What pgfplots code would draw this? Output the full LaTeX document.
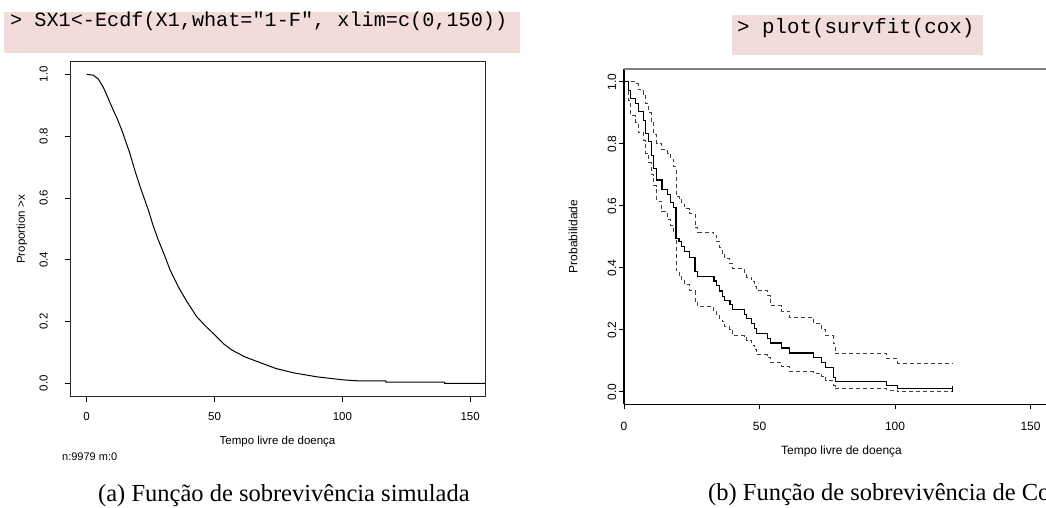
\documentclass[border=0pt]{standalone}
\usepackage{fontspec}
\setmainfont{Liberation Serif}
\setmonofont{Liberation Mono}
\newfontfamily\arial{Liberation Sans}
\usepackage{pgfplots}
\pgfplotsset{compat=1.18}
\definecolor{codebg}{HTML}{F2DCDB}

% Simulated survival curve (1 - empirical CDF)
\pgfplotstableread{
x y
0 1.000
2.6 0.997
4.5 0.985
6.5 0.958
8 0.930
9.8 0.895
12 0.855
13.7 0.820
16.9 0.744
18.8 0.690
20.9 0.636
24.1 0.561
26 0.510
28.0 0.464
30.5 0.413
32.6 0.367
35.8 0.313
39 0.267
43.0 0.216
46.5 0.185
50.2 0.156
53.5 0.128
56.7 0.108
62 0.085
67.8 0.067
74 0.048
80.8 0.034
90 0.021
100.4 0.011
106 0.008
117 0.008
117 0.004
140 0.004
140 0.000
156 0.000
}\simdata

% Cox survival estimate with lower/upper confidence limits
\pgfplotstableread{
t s up lo
0 1.000 1.000 1.000
1.6 0.972 1.000 0.940
2.5 0.946 1.000 0.890
4.2 0.930 0.993 0.870
5.2 0.903 0.975 0.835
7.1 0.875 0.960 0.810
8.0 0.833 0.930 0.770
9.0 0.806 0.900 0.740
10.0 0.763 0.870 0.700
10.8 0.720 0.830 0.665
12.1 0.683 0.800 0.615
14.0 0.651 0.780 0.580
16.1 0.637 0.770 0.555
17.2 0.610 0.750 0.535
18.2 0.594 0.725 0.510
19.2 0.495 0.630 0.390
20.3 0.484 0.620 0.375
21.3 0.467 0.605 0.360
22.3 0.452 0.590 0.345
24.1 0.434 0.575 0.325
26.2 0.388 0.530 0.290
27.2 0.372 0.515 0.275
33.2 0.357 0.505 0.260
34.2 0.342 0.485 0.245
35.2 0.325 0.465 0.235
36.2 0.308 0.445 0.225
37.1 0.294 0.430 0.210
39.1 0.280 0.415 0.200
40.1 0.264 0.398 0.180
44.4 0.249 0.385 0.175
45.3 0.235 0.370 0.165
47.1 0.219 0.355 0.150
48.1 0.203 0.340 0.135
49.0 0.188 0.325 0.120
53.0 0.172 0.310 0.110
54.0 0.157 0.277 0.095
58.2 0.141 0.260 0.080
61.0 0.125 0.240 0.065
69.9 0.110 0.220 0.060
72.9 0.094 0.200 0.050
74.4 0.078 0.180 0.035
77.2 0.047 0.155 0.020
77.9 0.033 0.124 0.010
96.9 0.019 0.107 0.005
101.0 0.009 0.092 0.000
121.3 0.009 0.092 0.000
}\coxdata

\pgfplotsset{
  rplot/.style={
    scale only axis,
    anchor=south west,
    tick align=outside,
    major tick length=5pt,
    xtick={0,50,100,150},
    ytick={0,0.2,0.4,0.6,0.8,1},
    /pgf/number format/assume math mode=true,
    yticklabel={\pgfmathprintnumber[fixed,fixed zerofill,precision=1]{\tick}},
    every tick/.style={black,line width=0.8pt},
  }
}

\begin{document}
\begin{tikzpicture}
% R console commands
\fill[codebg] (4pt,454pt) rectangle (520pt,495pt);
\node[anchor=base west,inner sep=0pt,font=\fontsize{20.2}{24}\ttfamily] at (10pt,480.3pt) {> SX1<-Ecdf(X1,what="1-F", xlim=c(0,150))};
\fill[codebg] (732pt,452pt) rectangle (983pt,492pt);
\node[anchor=base west,inner sep=0pt,font=\fontsize{20.8}{24}\ttfamily] at (737pt,473.7pt) {> plot(survfit(cox)};

% (a) simulated survival function
\begin{axis}[rplot,
  at={(70pt,110.3pt)}, width=415pt, height=335pt,
  xmin=-6.53, xmax=155.8, ymin=-0.0434, ymax=1.0408,
  xtick pos=bottom, ytick pos=left,
  axis line style={black!85,line width=0.9pt},
  xticklabel shift=11pt, yticklabel shift=17pt,
  xticklabel style={font=\arial\fontsize{11.5}{12}\selectfont,anchor=north,inner sep=0pt},
  yticklabel style={font=\arial\fontsize{11.5}{12}\selectfont,rotate=90,anchor=south,inner sep=0pt},
]
\addplot[black,line width=1pt] table[x=x,y=y] {\simdata};
\end{axis}

% (b) Cox survival function
\begin{axis}[rplot,
  at={(624pt,102.7pt)}, width=433.6pt, height=335.3pt,
  xmin=0, xmax=160, ymin=-0.0406, ymax=1.041,
  axis x line*=bottom, axis y line*=left,
  axis line style={black,line width=1.1pt},
  xticklabel shift=13pt, yticklabel shift=2.5pt,
  xticklabel style={font=\arial\fontsize{12}{12}\selectfont,anchor=north,inner sep=0pt},
  yticklabel style={font=\arial\fontsize{12}{12}\selectfont,rotate=90,anchor=south,inner sep=0pt},
]
\draw[black!50,line width=1.1pt] (rel axis cs:0,1) -- (rel axis cs:1,1);
\addplot[const plot,black!75,line width=1pt,dash pattern=on 4pt off 3pt] table[x=t,y=up] {\coxdata};
\addplot[const plot,black!75,line width=1pt,dash pattern=on 4pt off 3pt] table[x=t,y=lo] {\coxdata};
\addplot[const plot,black,line width=1.1pt] table[x=t,y=s] {\coxdata};
% censored observation at the last follow-up time
\addplot[only marks,mark=|,mark size=3pt,black,line width=0.8pt] coordinates {(121.3,0.009)};
\end{axis}

% axis titles
\node[font=\arial\fontsize{11.5}{12}\selectfont] at (277.5pt,65.3pt) {Tempo livre de doença};
\node[font=\arial\fontsize{11.5}{12}\selectfont,rotate=90] at (22pt,277.5pt) {Proportion >x};
\node[font=\arial\fontsize{11}{12}\selectfont,anchor=west,inner sep=0pt] at (62pt,50.3pt) {n:9979 m:0};
\node[font=\arial\fontsize{12}{12}\selectfont] at (841.5pt,55.3pt) {Tempo livre de doença};
\node[font=\arial\fontsize{12}{12}\selectfont,rotate=90] at (573pt,270.5pt) {Probabilidade};

% sub-captions
\node[anchor=base west,inner sep=0pt,font=\fontsize{24.5}{28}\selectfont] at (98pt,6pt) {(a) Função de sobrevivência simulada};
\node[anchor=base west,inner sep=0pt,font=\fontsize{24.5}{28}\selectfont] at (708pt,7pt) {(b) Função de sobrevivência de Cox};

\pgfresetboundingbox
\path[use as bounding box] (0pt,0pt) rectangle (1046pt,507pt);
\end{tikzpicture}
\end{document}
